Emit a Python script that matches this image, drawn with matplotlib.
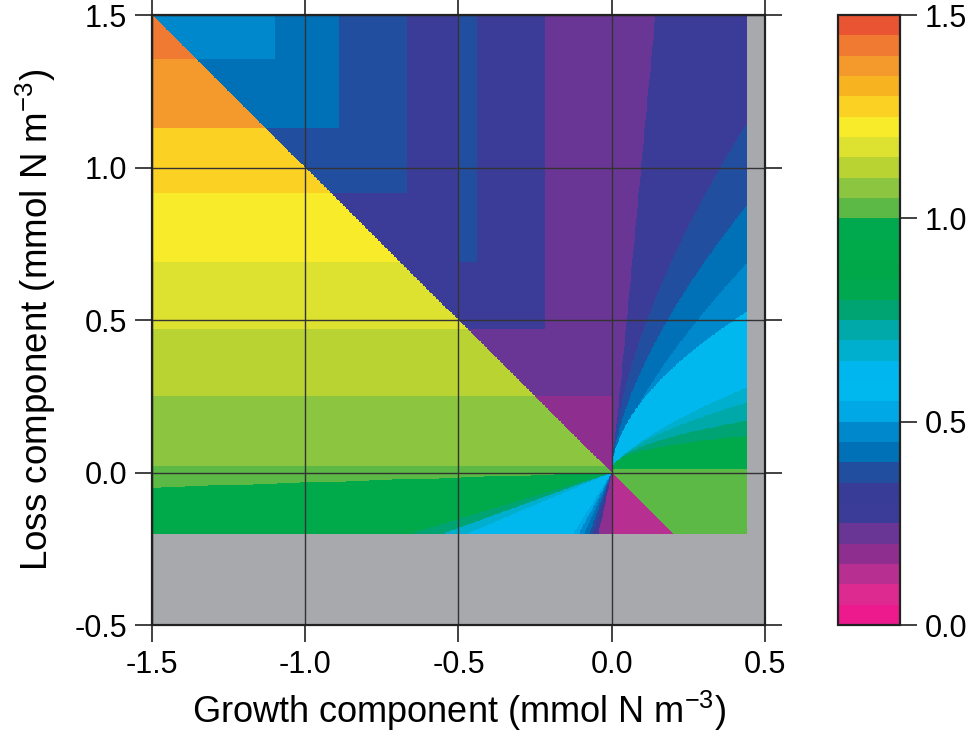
import numpy as np
import matplotlib
matplotlib.use("Agg")
import matplotlib.pyplot as plt
from matplotlib.colors import ListedColormap, BoundaryNorm

plt.rcParams['font.family'] = ['Liberation Sans', 'DejaVu Sans']
plt.rcParams['mathtext.fontset'] = 'custom'
plt.rcParams['mathtext.rm'] = 'Liberation Sans'
plt.rcParams['axes.unicode_minus'] = False

# colour scale: 30 bands from 0 to 1.5
levels = np.linspace(0, 1.5, 31)
band_colors = ['#EC1A8D', '#DD2A91', '#B72F91', '#8E2F8F', '#6A3696',
               '#3B3C97', '#383C96', '#214E9F', '#0070B7', '#0088CD',
               '#00A8E6', '#00B8EE', '#00B6EE', '#00AFCD', '#00A9A9',
               '#00A473', '#00A84F', '#00A84A', '#00A94A', '#00A94E',
               '#5DB946', '#8CC540', '#B9D432', '#DDE12F', '#F8EB2A',
               '#FBD123', '#F8B320', '#F49A2C', '#F07A31', '#E95532']

# area covered by values (outside is grey)
x_lo, x_hi = -1.5, 0.44
y_lo, y_hi = -0.2, 1.5

# blocky part left of zero growth: cell edges
blk_x = [-1.5, -1.10, -0.89, -0.67, -0.50, -0.44, -0.22, 0.0]
blk_y = [1.5, 1.355, 1.13, 0.915, 0.69, 0.47, 0.25, 0.02]
# above the diagonal (growth + loss > 0), rows top -> bottom
upper_vals = [
    [0.475, 0.425, 0.375, 0.30, 0.375, 0.30, 0.225],
    [0.425, 0.425, 0.375, 0.30, 0.375, 0.30, 0.225],
    [0.375, 0.375, 0.375, 0.30, 0.375, 0.30, 0.225],
    [0.30, 0.30, 0.30, 0.30, 0.375, 0.30, 0.225],
    [0.30, 0.30, 0.30, 0.30, 0.30, 0.30, 0.225],
    [0.225, 0.225, 0.225, 0.225, 0.225, 0.225, 0.225],
    [0.175, 0.175, 0.175, 0.175, 0.175, 0.175, 0.175],
]
# below the diagonal, one value per row
lower_vals = [1.425, 1.375, 1.275, 1.225, 1.175, 1.125, 1.075]

# fan below zero loss, left of origin: angle below the -x axis (deg)
ll_edges = [0, 1.9, 17, 20, 23, 58, 62, 66, 70, 73, 78, 90.01]
ll_vals = [1.025, 0.925, 0.775, 0.70, 0.60, 0.525, 0.475, 0.425, 0.375, 0.30, 0.175]

# fan right of origin: each boundary through an inner and outer point
fan_in_x = [0.049, 0.115, 0.182, 0.28, 0.10, 0.157, 0.157, 0.157, 0.157]
fan_in_y = [0.50, 0.50, 0.50, 0.50, 0.236, 0.14, 0.127, 0.105, 0.083]
fan_out_x = [0.141, 0.444, 0.444, 0.444, 0.40, 0.444, 0.444, 0.444, 0.444]
fan_out_y = [1.485, 1.15, 0.88, 0.69, 0.50, 0.28, 0.23, 0.17, 0.12]
fan_vals = [0.30, 0.375, 0.425, 0.475, 0.60, 0.675, 0.725, 0.775, 0.90]
fan_top_val = 0.225

line_val = 1.025     # thin band along zero loss, and x>0, y<0 above diagonal
corner_val = 0.125   # x>0, y<0 below diagonal

# ---- build the field
gx = np.linspace(x_lo, x_hi, 781)
gy = np.linspace(y_lo, y_hi, 681)
xc = 0.5 * (gx[1:] + gx[:-1])
yc = 0.5 * (gy[1:] + gy[:-1])
X, Y = np.meshgrid(xc, yc)

bx = np.array(blk_x)
by = np.array(blk_y)
ci = np.clip(np.searchsorted(bx, X, side='right') - 1, 0, len(bx) - 2)
ri = np.clip(np.searchsorted(-by, -Y, side='right') - 1, 0, len(by) - 2)
upper = np.array(upper_vals)[ri, ci]
lower = np.array(lower_vals)[ri]

left = X < 0
above = (X + Y) > 0
Z = np.where(above, upper, lower)

phi = np.degrees(np.arctan2(-Y, -X))
k = np.clip(np.digitize(phi, ll_edges) - 1, 0, len(ll_vals) - 1)
Z = np.where(left & (Y < 0) & ~above, np.array(ll_vals)[k], Z)
Z = np.where(left & (Y >= 0) & (Y < blk_y[-1]) & ~above, line_val, Z)

fan = np.full(X.shape, fan_top_val)
Xp = np.maximum(X, 1e-6)
for xi, yi, xo, yo, v in zip(fan_in_x, fan_in_y, fan_out_x, fan_out_y, fan_vals):
    p = np.log(yo / yi) / np.log(xo / xi)
    kk = yo / xo ** p
    fan = np.where(Y < kk * Xp ** p, v, fan)
right = ~left
Z = np.where(right & (Y >= 0.012), fan, Z)
Z = np.where(right & (Y >= 0) & (Y < 0.012), line_val, Z)
Z = np.where(right & (Y < 0), np.where(above, line_val, corner_val), Z)

# ---- draw
fig = plt.figure(figsize=(9.73, 7.40), dpi=100)
ax = fig.add_axes([0.1562, 0.1554, 0.630, 0.8243])
cax = fig.add_axes([0.8613, 0.1554, 0.0637, 0.8243])

cmap = ListedColormap(band_colors)
norm = BoundaryNorm(levels, cmap.N)
ax.set_facecolor('#A7A9AC')
mesh = ax.pcolormesh(gx, gy, Z, cmap=cmap, norm=norm, shading='flat',
                     rasterized=True, zorder=1)

ax.set_xlim(-1.5, 0.5)
ax.set_ylim(-0.5, 1.5)
ax.set_xticks([-1.5, -1.0, -0.5, 0.0, 0.5])
ax.set_yticks([-0.5, 0.0, 0.5, 1.0, 1.5])
ax.set_xticklabels(['-1.5', '-1.0', '-0.5', '0.0', '0.5'])
ax.set_yticklabels(['-0.5', '0.0', '0.5', '1.0', '1.5'])
ax.grid(True, color='#333333', lw=1.0, zorder=3)
ax.set_axisbelow(False)
ax.tick_params(direction='out', length=12, width=1.3, color='#333333',
               top=True, right=True, labelsize=22, pad=6)
for s in ax.spines.values():
    s.set_linewidth(1.6)
    s.set_color('#222222')
    s.set_zorder(4)

ax.set_xlabel('Growth component (mmol N m$^{-3}$)', fontsize=26, labelpad=6)
ax.set_ylabel('Loss component (mmol N m$^{-3}$)', fontsize=26.5, labelpad=12)

cb = fig.colorbar(mesh, cax=cax, ticks=[0.0, 0.5, 1.0, 1.5])
cb.ax.minorticks_off()
cb.ax.set_yticklabels(['0.0', '0.5', '1.0', '1.5'])
cb.ax.tick_params(direction='out', length=12, width=1.3, color='#333333',
                  labelsize=22, pad=6)
cb.outline.set_linewidth(1.6)
cb.outline.set_edgecolor('#222222')

fig.savefig('out.png', dpi=100)
